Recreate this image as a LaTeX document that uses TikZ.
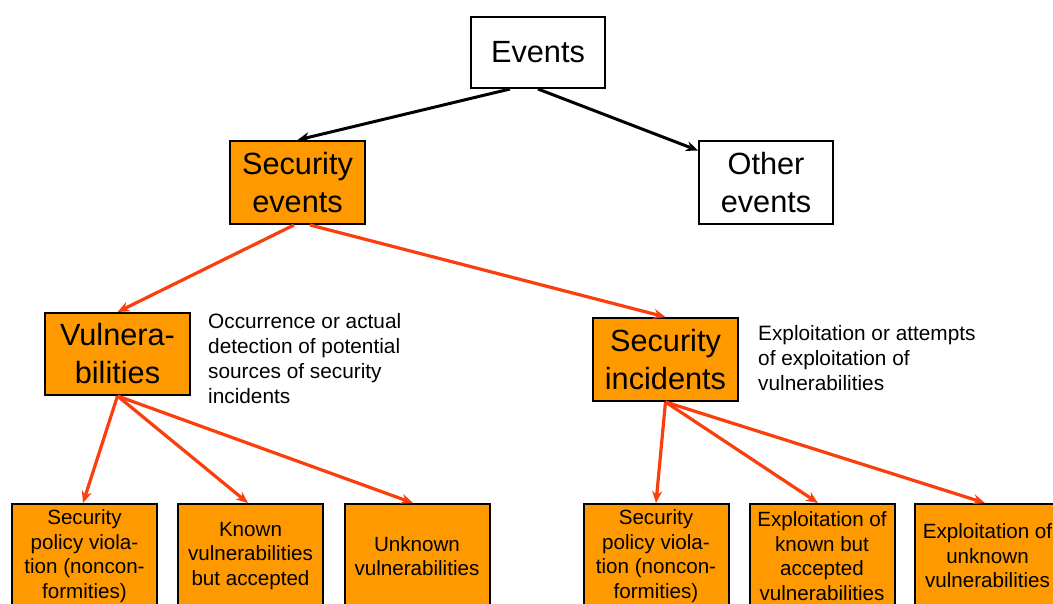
\documentclass[tikz,border=0pt]{standalone}
\usepackage{fontspec}
\setmainfont{Liberation Sans}
\usetikzlibrary{arrows.meta}
\definecolor{boxorange}{RGB}{255,153,0}
\definecolor{arrred}{RGB}{250,62,12}
\tikzset{
  bigbox/.style={draw=black,line width=2pt,minimum width=#1,inner sep=0pt,align=center,
    font=\fontsize{30.7}{38}\selectfont},
  smallbox/.style={draw=black,line width=2pt,fill=boxorange,minimum width=145pt,minimum height=104pt,
    inner sep=0pt,align=center,font=\fontsize{20.6}{24.6}\selectfont},
  desc/.style={anchor=west,inner sep=0pt,align=left,font=\fontsize{20.8}{25}\selectfont},
  blackarr/.style={draw=black,line width=3pt,-{Stealth[length=12pt,width=10pt]}},
  redarr/.style={draw=arrred,line width=3.2pt,-{Stealth[length=12pt,width=10pt]}}
}
\begin{document}
\begin{tikzpicture}[x=1pt,y=-1pt]
\useasboundingbox (0,0) rectangle (1053,603);
\clip (0,0) rectangle (1053,603);
\fill[white] (0,0) rectangle (1053,603);
% top level
\node[bigbox=134pt,minimum height=71pt,fill=white] (ev) at (538,52.5) {Events};
\node[bigbox=135pt,minimum height=83pt,fill=boxorange] (sev) at (297.5,182.5) {Security\\events};
\node[bigbox=134pt,minimum height=83pt,fill=white] (oev) at (766,182.5) {Other\\events};
\node[bigbox=145pt,minimum height=82pt,fill=boxorange] (vul) at (117.5,354) {Vulnera-\\bilities};
\node[bigbox=145pt,minimum height=83pt,fill=boxorange] (sinc) at (665.5,359.5) {Security\\incidents};
% descriptions
\node[desc] (vdesc) at (208,359) {Occurrence or actual\\detection of potential\\sources of security\\incidents};
\node[desc] (sdesc) at (758,358) {Exploitation or attempts\\of exploitation of\\vulnerabilities};
% bottom boxes
\node[smallbox] (b1) at (84.5,556) {Security\\policy viola-\\tion (noncon-\\formities)};
\node[smallbox] (b2) at (250.5,556) {Known\\vulnerabilities\\but accepted};
\node[smallbox] (b3) at (417,556) {Unknown\\vulnerabilities};
\node[smallbox] (b4) at (656,556) {Security\\policy viola-\\tion (noncon-\\formities)};
\node[smallbox] (b5) at (822,556) {Exploitation of\\known but\\accepted\\vulnerabilities};
\node[smallbox] (b6) at (987.5,556) {Exploitation of\\unknown\\vulnerabilities};
% connectors
\draw[blackarr] ([xshift=-28pt]ev.south) -- (sev.north);
\draw[blackarr] ([xshift=0pt]ev.south) -- ([yshift=32pt]oev.west);
\draw[redarr] ([xshift=-3.5pt]sev.south) -- (vul.north);
\draw[redarr] ([xshift=12.5pt]sev.south) -- (sinc.north);
\draw[redarr] (vul.south) -- ([xshift=-1.5pt]b1.north);
\draw[redarr] (vul.south) -- ([xshift=-2.5pt]b2.north);
\draw[redarr] (vul.south) -- ([xshift=-4pt]b3.north);
\draw[redarr] (sinc.south) -- (b4.north);
\draw[redarr] (sinc.south) -- ([xshift=-4pt]b5.north);
\draw[redarr] (sinc.south) -- ([xshift=-2.5pt]b6.north);
\end{tikzpicture}
\end{document}
